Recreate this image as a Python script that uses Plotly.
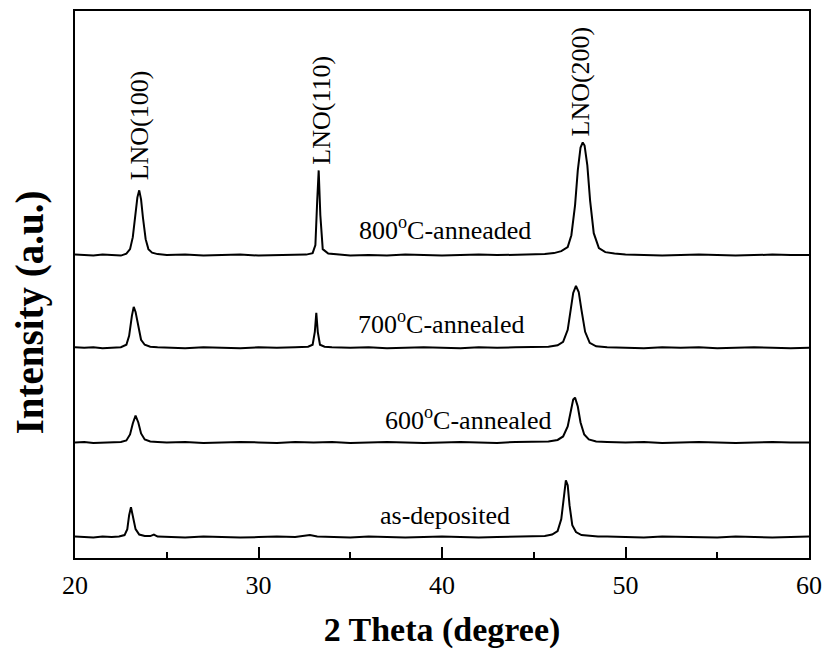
import plotly.graph_objects as go

# XRD patterns of LaNiO3 films (intensity above each curve's own baseline, a.u.)
theta_dep = [20, 20.5, 21, 21.5, 22, 22.4, 22.7, 22.85, 22.95, 23.05, 23.15, 23.3, 23.5, 23.8, 24.1, 24.3, 24.5,
             25, 26, 27, 28, 29, 30, 31, 32, 32.6, 32.8, 33.2, 34, 35, 36, 37, 38, 39, 40, 41, 42, 43, 44,
             45, 45.6, 46.0, 46.3, 46.5, 46.65, 46.75, 46.85, 46.95, 47.1, 47.3, 47.6, 48.0, 48.5, 49,
             50, 51, 52, 53, 54, 55, 56, 57, 58, 59, 60]
int_dep = [0.5, 0, -0.5, 0.5, 0, 0.5, 2, 8, 22, 30, 22, 8, 2.5, 1, 1, 2.5, 0.5,
           0, -0.5, 0.5, 0, -0.5, 0, 0.5, 0, 1, 2, 0.5, 0, -0.5, 0.5, 0, -0.5, 0, 0.5, 0, -0.5, 0, 0.5,
           0.5, 1, 2.5, 6, 18, 42, 57, 52, 32, 12, 5, 2, 1, 0.5, 0.5,
           0, -0.5, 0.5, 0, 0, -0.5, 0.5, 0, -0.5, 0, 0.5]

theta_600 = [20, 20.5, 21, 21.5, 22, 22.5, 22.8, 23.0, 23.15, 23.3, 23.45, 23.6, 23.8, 24.1, 24.5,
             25, 26, 27, 28, 29, 30, 31, 32, 33, 34, 35, 36, 37, 38, 39, 40, 41, 42, 43, 44,
             45, 45.8, 46.3, 46.6, 46.85, 47.0, 47.15, 47.25, 47.4, 47.55, 47.75, 48.0, 48.4, 49,
             50, 51, 52, 53, 54, 55, 56, 57, 58, 59, 60]
int_600 = [0, 0.5, -0.5, 0, 0.5, 0.5, 2, 8, 19, 27, 20, 9, 3, 1, 0.5,
           0, 0.5, -0.5, 0, 0.5, 0, -0.5, 0.5, 0, 0.5, -0.5, 0, 0.5, 0, -0.5, 0, 0.5, 0, -0.5, 0.5,
           0.5, 1, 2.5, 6, 16, 30, 43, 45, 36, 20, 8, 3, 1, 0.5,
           0, 0.5, -0.5, 0, 0.5, 0, -0.5, 0, 0.5, 0, 0]

theta_700 = [20, 20.5, 21, 21.5, 22, 22.5, 22.8, 22.95, 23.1, 23.2, 23.3, 23.45, 23.6, 23.8, 24.1, 24.5,
             25, 26, 27, 28, 29, 30, 31, 32, 32.7, 32.95, 33.07, 33.15, 33.23, 33.35, 33.6, 34,
             35, 36, 37, 38, 39, 40, 41, 42, 43, 44,
             45, 45.8, 46.3, 46.6, 46.85, 47.0, 47.15, 47.3, 47.45, 47.6, 47.8, 48.05, 48.4, 49,
             50, 51, 52, 53, 54, 55, 56, 57, 58, 59, 60]
int_700 = [0.5, 0, 0.5, -0.5, 0, 0.5, 3, 12, 32, 41, 36, 20, 8, 3, 1, 0.5,
           0, -0.5, 0.5, 0, -0.5, 0.5, 0, 0.5, 1, 3, 16, 35, 16, 3, 1, 0.5,
           0, 0.5, -0.5, 0, 0.5, 0, -0.5, 0.5, 0, 0.5,
           0.5, 1, 2.5, 6, 18, 36, 55, 62, 56, 38, 16, 5, 1.5, 0.5,
           0, -0.5, 0.5, 0, 0.5, -0.5, 0, 0.5, 0, -0.5, 0]

theta_800 = [20, 20.5, 21, 21.5, 22, 22.5, 22.8, 23.0, 23.15, 23.3, 23.4, 23.5, 23.6, 23.7, 23.85, 24.0, 24.2, 24.5,
             25, 26, 27, 28, 29, 30, 31, 32, 32.6, 32.95, 33.1, 33.2, 33.28, 33.37, 33.5, 33.8, 34.3,
             35, 36, 37, 38, 39, 40, 41, 42, 43, 44,
             45, 45.6, 46.1, 46.5, 46.85, 47.05, 47.25, 47.4, 47.55, 47.67, 47.77, 47.92, 48.07, 48.27, 48.55, 48.9, 49.4,
             50, 51, 52, 53, 54, 55, 56, 57, 58, 59, 60]
int_800 = [0.5, 0, -0.5, 0.5, 0, -0.5, 1.5, 6, 18, 42, 58, 65, 56, 38, 16, 6, 2.5, 1,
           0, 0.5, -0.5, 0, 0.5, -0.5, 0, 0.5, 0.5, 2, 10, 55, 85, 40, 6, 1.5, 0.5,
           -0.5, 0, -0.5, 0.5, 0, -0.5, 0, 0.5, 0, 0.5,
           0.5, 1, 2, 4, 8, 20, 50, 85, 108, 113, 110, 90, 55, 22, 7, 3, 1.5,
           0.5, 0, -0.5, 0, 0.5, 0, -0.5, 0, 0.5, 0, 0]

# vertical offset of each pattern in the stack
offsets = {"as-deposited": 21, "600": 116, "700": 211, "800": 304}

series = [
    (theta_dep, int_dep, offsets["as-deposited"]),
    (theta_600, int_600, offsets["600"]),
    (theta_700, int_700, offsets["700"]),
    (theta_800, int_800, offsets["800"]),
]

FONT = "Liberation Serif, Times New Roman, serif"

fig = go.Figure()
for th, inten, off in series:
    fig.add_trace(go.Scatter(
        x=th, y=[v + off for v in inten], mode="lines",
        line=dict(color="black", width=2), showlegend=False, hoverinfo="skip",
    ))

sample_labels = [
    ("800<sup>o</sup>C-anneaded", 40.15, 331),
    ("700<sup>o</sup>C-annealed", 39.97, 236),
    ("600<sup>o</sup>C-annealed", 41.43, 140),
    ("as-deposited", 40.16, 43),
]
for txt, x, y in sample_labels:
    fig.add_annotation(x=x, y=y, text=txt, showarrow=False,
                       font=dict(family=FONT, size=26, color="black"))

peak_labels = [
    ("LNO(100)", 23.53, 434),
    ("LNO(110)", 33.46, 450),
    ("LNO(200)", 47.56, 478),
]
for txt, x, y in peak_labels:
    fig.add_annotation(x=x, y=y, text=txt, showarrow=False, textangle=-90,
                       font=dict(family=FONT, size=26, color="black"))

# y-axis title, placed a little below the middle of the axis
fig.add_annotation(xref="paper", yref="paper", x=-0.062, y=0.45,
                   xanchor="center", yanchor="middle",
                   text="<b>Intensity (a.u.)</b>", textangle=-90, showarrow=False,
                   font=dict(family=FONT, size=39, color="black"))

fig.update_layout(
    width=831, height=653,
    margin=dict(l=75, r=18, t=9, b=95),
    paper_bgcolor="white", plot_bgcolor="white",
    font=dict(family=FONT, color="black"),
)
fig.update_xaxes(
    range=[20, 60], tickvals=[20, 30, 40, 50, 60],
    showline=True, linecolor="black", linewidth=2, mirror=True,
    ticks="inside", ticklen=11, tickwidth=2, tickcolor="black",
    minor=dict(ticks="inside", ticklen=6, tickwidth=2, tickcolor="black", dtick=5, tick0=20),
    showgrid=False, zeroline=False, ticklabelstandoff=3,
    tickfont=dict(family=FONT, size=26, color="black"),
    title=dict(text="<b>2 Theta (degree)</b>", font=dict(family=FONT, size=34, color="black"), standoff=18),
)
fig.update_yaxes(
    range=[0, 549], showticklabels=False, ticks="",
    showline=True, linecolor="black", linewidth=2, mirror=True,
    showgrid=False, zeroline=False,
)

fig.write_html("out.html")
